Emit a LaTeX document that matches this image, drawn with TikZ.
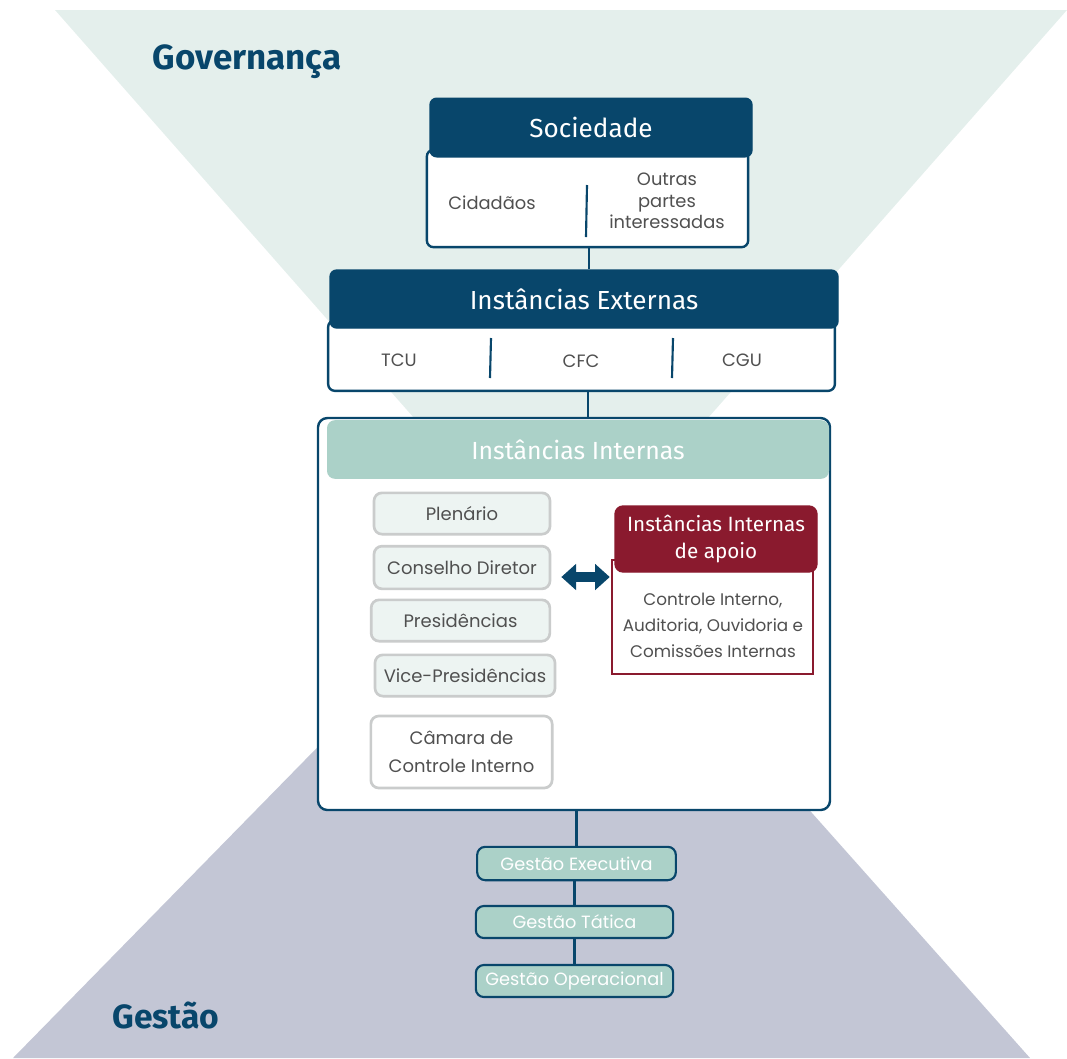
\documentclass[tikz,border=0pt]{standalone}
\usepackage{fontspec}
\setmainfont{Poppins}
\newfontfamily\headfont{Fira Sans}
\usetikzlibrary{arrows.meta,positioning,calc}
\definecolor{govfill}{HTML}{E4EFEC}
\definecolor{gesfill}{HTML}{C3C6D5}
\definecolor{navy}{HTML}{08466B}
\definecolor{tealbox}{HTML}{ABD1C8}
\definecolor{wine}{HTML}{8A1A2E}
\definecolor{paleteal}{HTML}{EDF4F2}
\definecolor{boxgray}{HTML}{CACCCC}
\definecolor{textgray}{HTML}{505050}

\begin{document}
\begin{tikzpicture}[x=0.75pt,y=-0.75pt] % 1 unit = 1 px of the reference
\tikzstyle{hdr}=[draw=navy, fill=navy, rounded corners=5pt, line width=1pt, inner sep=0pt, text=white, font=\headfont\fontsize{19.6}{20}\selectfont]
\tikzstyle{panel}=[draw=navy, fill=white, rounded corners=5pt, line width=1.8pt, inner sep=0pt]
\tikzstyle{item}=[text=textgray, align=center, font=\fontsize{13.4}{16}\selectfont]
\tikzstyle{member}=[draw=boxgray, fill=paleteal, rounded corners=6pt, line width=2pt, inner sep=0pt, text=textgray, align=center, font=\fontsize{13.5}{21}\selectfont]
\tikzstyle{tier}=[draw=navy, fill=tealbox, rounded corners=6pt, line width=1.6pt, inner sep=0pt, text=white, font=\fontsize{13.3}{14}\selectfont]
\tikzstyle{link}=[navy, line width=2.2pt]
\tikzstyle{divider}=[navy, line width=1.6pt]
\tikzstyle{heading}=[text=navy, font=\headfont\bfseries\fontsize{26.2}{28}\selectfont]
\tikzstyle{dblarrow}=[navy, line width=8pt, {Triangle[length=11pt,width=19pt]}-{Triangle[length=11pt,width=19pt]}]

\useasboundingbox (0,0) rectangle (1067,1058);
\fill[govfill] (55,10) -- (1067,10) -- (561,585) -- cycle;
\fill[gesfill] (13,1058) -- (1030,1058) -- (546,514) -- cycle;

\node[heading] (governanca) at (247,62) {Governança};
\node[heading, font=\headfont\bfseries\fontsize{25.2}{28}\selectfont] (gestao) at (166,1015) {Gestão};

% Sociedade
\node[panel, minimum width=241pt, minimum height=73pt] (sociedadeBody) at (587.5,198.5) {};
\node[hdr, minimum width=241.5pt, minimum height=44pt] (sociedade) at (591,127.5) {Sociedade};
\draw[divider] (587,185) -- (586,237);
\node[item] (cidadaos) at (492,203) {Cidadãos};
\node[item] (outras) at (667,201) {Outras\\partes\\interessadas};

% Instancias externas
\node[panel, minimum width=380pt, minimum height=53pt] (externasBody) at (581.5,355.5) {};
\node[hdr, minimum width=381pt, minimum height=43.5pt] (externas) at (584,299) {Instâncias Externas};
\draw[divider] (491,338) -- (490,378);
\draw[divider] (673,338) -- (672,378);
\node[item] (tcu) at (399,360) {TCU};
\node[item] (cfc) at (581,361) {CFC};
\node[item] (cgu) at (742,360) {CGU};

% Instancias internas
\node[panel, rounded corners=7pt, minimum width=384pt, minimum height=294pt] (internas) at (574,614) {};
\node[hdr, draw=none, fill=tealbox, rounded corners=6pt, minimum width=376.5pt, minimum height=44pt, font=\headfont\fontsize{18.6}{20}\selectfont] (internasHead) at (578,449.5) {Instâncias Internas};

\node[member, minimum width=132pt, minimum height=31pt] (plenario) at (462,513.5) {Plenário};
\node[member, minimum width=132pt, minimum height=32pt] (conselho) at (462,567.5) {Conselho Diretor};
\node[member, minimum width=134pt, minimum height=31pt] (presidencias) at (460.5,620.5) {Presidências};
\node[member, minimum width=135pt, minimum height=31pt] (vice) at (465,675.5) {Vice-Presidências};
\node[member, fill=white, minimum width=136pt, minimum height=54pt] (camara) at (461.5,752) {Câmara de\\Controle Interno};

\node[draw=wine, fill=white, line width=1.6pt, inner sep=0pt, minimum width=151pt, minimum height=85.5pt] (apoioBody) at (712.5,617) {};
\node[hdr, draw=wine, fill=wine, rounded corners=6pt, align=center, minimum width=151.5pt, minimum height=49.5pt, font=\headfont\fontsize{15.5}{20}\selectfont] (apoio) at (716,539) {Instâncias Internas\\de apoio};
\node[item, font=\fontsize{12.6}{19.5}\selectfont] (apoioText) at (713,625) {Controle Interno,\\Auditoria, Ouvidoria e\\Comissões Internas};

\draw[dblarrow] ($(conselho.east)+(10,9.5)$) -- ($(conselho.east -| apoioBody.west)+(-1,9.5)$);

% Gestao
\node[tier, minimum width=149pt, minimum height=25pt] (executiva) at (576.5,863.5) {Gestão Executiva};
\node[tier, minimum width=148pt, minimum height=24pt] (tatica) at (574.5,922) {Gestão Tática};
\node[tier, minimum width=148pt, minimum height=24pt] (operacional) at (574.5,981) {Gestão Operacional};

\draw[link] (sociedadeBody.south -| 589,0) -- (externas.north -| 589,0);
\draw[link] (externasBody.south -| 588,0) -- (internas.north -| 588,0);
\draw[link] (internas.south -| executiva.north) -- (executiva.north);
\draw[link] (executiva.south -| tatica.north) -- (tatica.north);
\draw[link] (tatica.south) -- (operacional.north);
\end{tikzpicture}
\end{document}
